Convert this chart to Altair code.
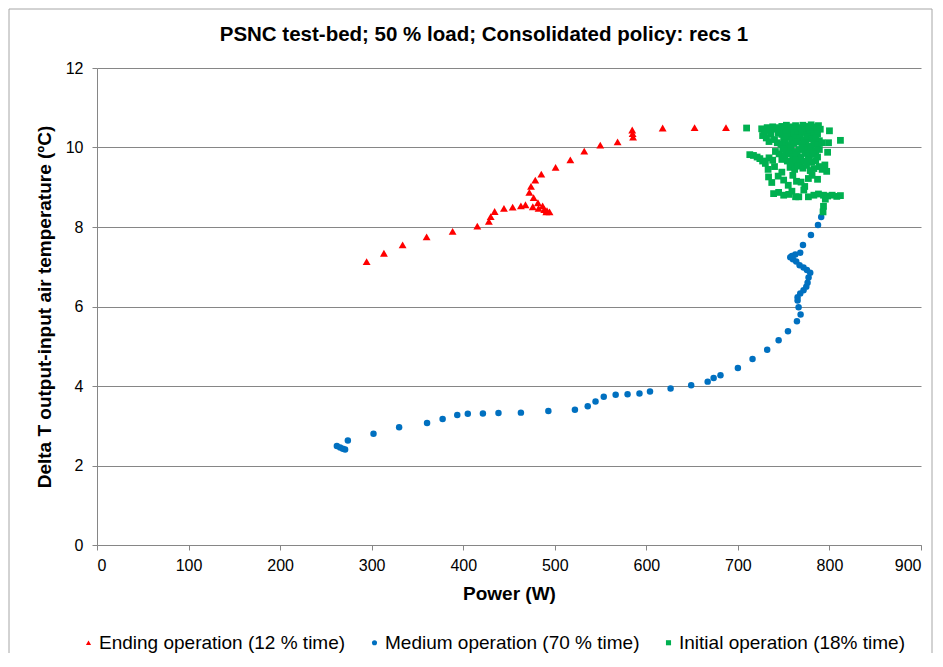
import altair as alt
import pandas as pd

# Ending operation (red triangles)
end_x = [294.5, 313.4, 333.8, 360.0, 388.4, 415.4, 428.0, 430.0, 434.3, 444.5, 454.0, 463.0,
         468.0, 476.0, 481.6, 482.3, 486.7, 488.5, 490.7, 491.5, 494.3, 476.9, 472.2, 474.0,
         478.7, 485.3, 500.9, 517.0, 532.2, 549.7, 568.6, 584.6, 585.0, 585.5, 617.8, 652.7, 687.0]
end_y = [7.13, 7.34, 7.55, 7.75, 7.89, 8.02, 8.14, 8.26, 8.39, 8.47, 8.50, 8.53,
         8.56, 8.51, 8.61, 8.47, 8.53, 8.44, 8.38, 8.41, 8.38, 8.74, 8.87, 9.02,
         9.18, 9.33, 9.50, 9.69, 9.91, 10.06, 10.14, 10.44, 10.35, 10.26, 10.49, 10.50, 10.50]

# Medium operation (blue circles)
med_x = [262.0, 265.5, 268.5, 271.0, 274.0, 302.0, 330.0, 360.5, 377.5, 393.5, 405.0, 421.5,
         438.5, 463.0, 493.0, 522.0, 536.0, 544.5, 553.5, 566.5, 579.5, 592.5, 604.0, 626.5,
         649.0, 667.0, 673.5, 681.0, 700.0, 716.0, 732.0, 744.5, 754.7, 764.5, 768.5, 766.3,
         765.2, 765.2, 768.1, 771.7, 774.7, 776.1, 777.2, 779.0, 775.4, 771.7, 767.4, 763.7,
         760.1, 757.2, 759.0, 762.7, 768.1, 771.1, 779.8, 787.5, 791.0]
med_y = [2.49, 2.45, 2.42, 2.40, 2.63, 2.80, 2.96, 3.07, 3.17, 3.27, 3.30, 3.31,
         3.32, 3.33, 3.37, 3.40, 3.49, 3.61, 3.73, 3.78, 3.79, 3.81, 3.86, 3.94,
         4.02, 4.11, 4.20, 4.27, 4.45, 4.68, 4.91, 5.15, 5.38, 5.63, 5.80, 5.98,
         6.15, 6.23, 6.33, 6.41, 6.50, 6.60, 6.73, 6.85, 6.92, 6.98, 7.04, 7.13,
         7.19, 7.24, 7.27, 7.31, 7.35, 7.55, 7.80, 8.05, 8.25]

# Initial operation (green squares)
init_x = [709.5,
          726, 729, 732, 735, 738, 741, 744, 727, 731, 736, 740, 744, 743, 734,
          713, 717, 721, 724, 727, 730, 734, 738, 741, 745, 740, 733, 748,
          733.5, 737, 748, 750, 755, 760, 764, 769, 773, 777, 781, 783, 792, 787, 744,
          744.5, 750, 755.5, 759, 763, 766.5, 772, 777, 783, 788, 793.5, 798, 803, 808, 812, 739,
          795.5, 793.5, 793,
          812, 800, 799, 798, 795, 797,
          748, 753, 758, 763, 767, 771, 776, 780, 784, 788,
          746, 750, 755, 760, 764, 769, 773, 778, 782, 786, 790,
          748, 752, 757, 761, 766, 770, 775, 779, 783, 787,
          750, 754, 759, 763, 768, 772, 776, 781, 785, 789,
          747, 752, 756, 761, 765, 770, 774, 778, 783, 787, 792,
          749, 753, 758, 762, 767, 771, 776, 780, 785, 789,
          751, 756, 760, 765, 769, 773, 778, 782, 787,
          754, 759, 763, 768, 772, 777, 781, 785,
          757, 762, 766, 771, 775, 779, 789]
init_y = [10.49,
          10.47, 10.40, 10.50, 10.43, 10.52, 10.46, 10.50, 10.30, 10.24, 10.33, 10.20, 10.36, 10.12, 10.15,
          9.82, 9.80, 9.76, 9.72, 9.66, 9.60, 9.74, 9.68, 9.90, 9.84, 9.52, 9.45, 9.70,
          9.26, 9.12, 9.38, 9.18, 9.05, 9.30, 9.15, 9.13, 9.02, 9.22, 9.30, 9.47, 9.45, 9.20, 9.28,
          8.87, 8.80, 8.82, 8.90, 8.76, 8.76, 8.93, 8.76, 8.80, 8.83, 8.80, 8.78, 8.80, 8.77, 8.79, 8.84,
          8.70, 8.52, 8.38,
          10.18, 10.42, 10.12, 9.88, 9.56, 9.40,
          10.53, 10.56, 10.52, 10.55, 10.50, 10.56, 10.53, 10.57, 10.52, 10.55,
          10.44, 10.47, 10.42, 10.46, 10.41, 10.45, 10.43, 10.47, 10.40, 10.44, 10.46,
          10.33, 10.37, 10.30, 10.36, 10.32, 10.38, 10.31, 10.35, 10.29, 10.34,
          10.22, 10.27, 10.20, 10.25, 10.23, 10.18, 10.26, 10.21, 10.24, 10.17,
          10.08, 10.12, 10.05, 10.10, 10.14, 10.07, 10.11, 10.03, 10.09, 10.06, 10.12,
          9.96, 9.92, 9.98, 9.90, 9.95, 9.99, 9.93, 9.97, 9.91, 9.95,
          9.80, 9.84, 9.77, 9.82, 9.75, 9.85, 9.79, 9.83, 9.76,
          9.66, 9.62, 9.68, 9.60, 9.65, 9.70, 9.63, 9.67,
          9.50, 9.45, 9.53, 9.48, 9.55, 9.42, 9.52]

series_names = ["Ending operation (12 % time)", "Medium operation (70 % time)", "Initial operation (18% time)"]
series_colors = ["#FF0000", "#0070C0", "#00B050"]
series_shapes = ["triangle-up", "circle", "square"]
series_sizes = [62, 42, 46]

x_ticks = [0, 100, 200, 300, 400, 500, 600, 700, 800, 900]
y_ticks = [0, 2, 4, 6, 8, 10, 12]

title_text = "PSNC test-bed; 50 % load; Consolidated policy: recs 1"

rows = []
for name, xs, ys in [(series_names[1], med_x, med_y),
                     (series_names[0], end_x, end_y),
                     (series_names[2], init_x, init_y)]:
    for a, b in zip(xs, ys):
        rows.append({"power": a, "dt": b, "series": name})
df = pd.DataFrame(rows)

FONT = "Liberation Sans"
W, H = 824, 477

legend_kw = dict(title=None, orient="none", legendX=-18, legendY=565, direction="horizontal",
                 labelFont=FONT, labelFontSize=19, labelColor="#000000", symbolSize=26,
                 columnPadding=19, labelOffset=1, padding=0, labelLimit=600)

base = alt.Chart(df).encode(
    x=alt.X("power:Q",
            scale=alt.Scale(domain=[0, 900], nice=False),
            axis=alt.Axis(values=x_ticks, title="Power (W)", grid=False, labelPadding=7,
                          titlePadding=11)),
    y=alt.Y("dt:Q",
            scale=alt.Scale(domain=[0, 12], nice=False),
            axis=alt.Axis(values=y_ticks, title="Delta T output-input air temperature (ºC)",
                          grid=True, labelPadding=9, titlePadding=11)),
    color=alt.Color("series:N", scale=alt.Scale(domain=series_names, range=series_colors),
                    legend=alt.Legend(**legend_kw)),
    shape=alt.Shape("series:N", scale=alt.Scale(domain=series_names, range=series_shapes),
                    legend=alt.Legend(**legend_kw)),
)

draw_order = [1, 0, 2]
point_layers = [
    base.transform_filter(alt.datum.series == series_names[i])
        .mark_point(filled=True, opacity=1, size=series_sizes[i])
    for i in draw_order
]

frame = alt.Chart(alt.Data(values=[{}])).mark_rect(fillOpacity=0, stroke="#a6a6a6", strokeWidth=1).encode(
    x=alt.value(-88), x2=alt.value(W + 11), y=alt.value(-59), y2=alt.value(H + 200)
)

title = alt.Chart(alt.Data(values=[{}])).mark_text(
    font=FONT, fontSize=20.5, fontWeight="bold", color="#000000", align="center", baseline="middle"
).encode(
    x=alt.value(W / 2 - 25), y=alt.value(-33), text=alt.value(title_text)
)

chart = alt.layer(frame, title, *point_layers).properties(
    width=W, height=H,
    autosize=alt.AutoSizeParams(type="none"),
    padding={"left": 89, "top": 60, "right": 12, "bottom": 108},
).configure_axis(
    labelFont=FONT, labelFontSize=16, labelColor="#000000",
    titleFont=FONT, titleFontSize=19, titleFontWeight="bold", titleColor="#000000",
    domainColor="#868686", tickColor="#868686", gridColor="#868686",
    tickSize=5, domainWidth=1, gridWidth=1,
).configure_view(strokeWidth=0)

chart.save("out.html", embed_options={"renderer": "svg", "actions": False})
